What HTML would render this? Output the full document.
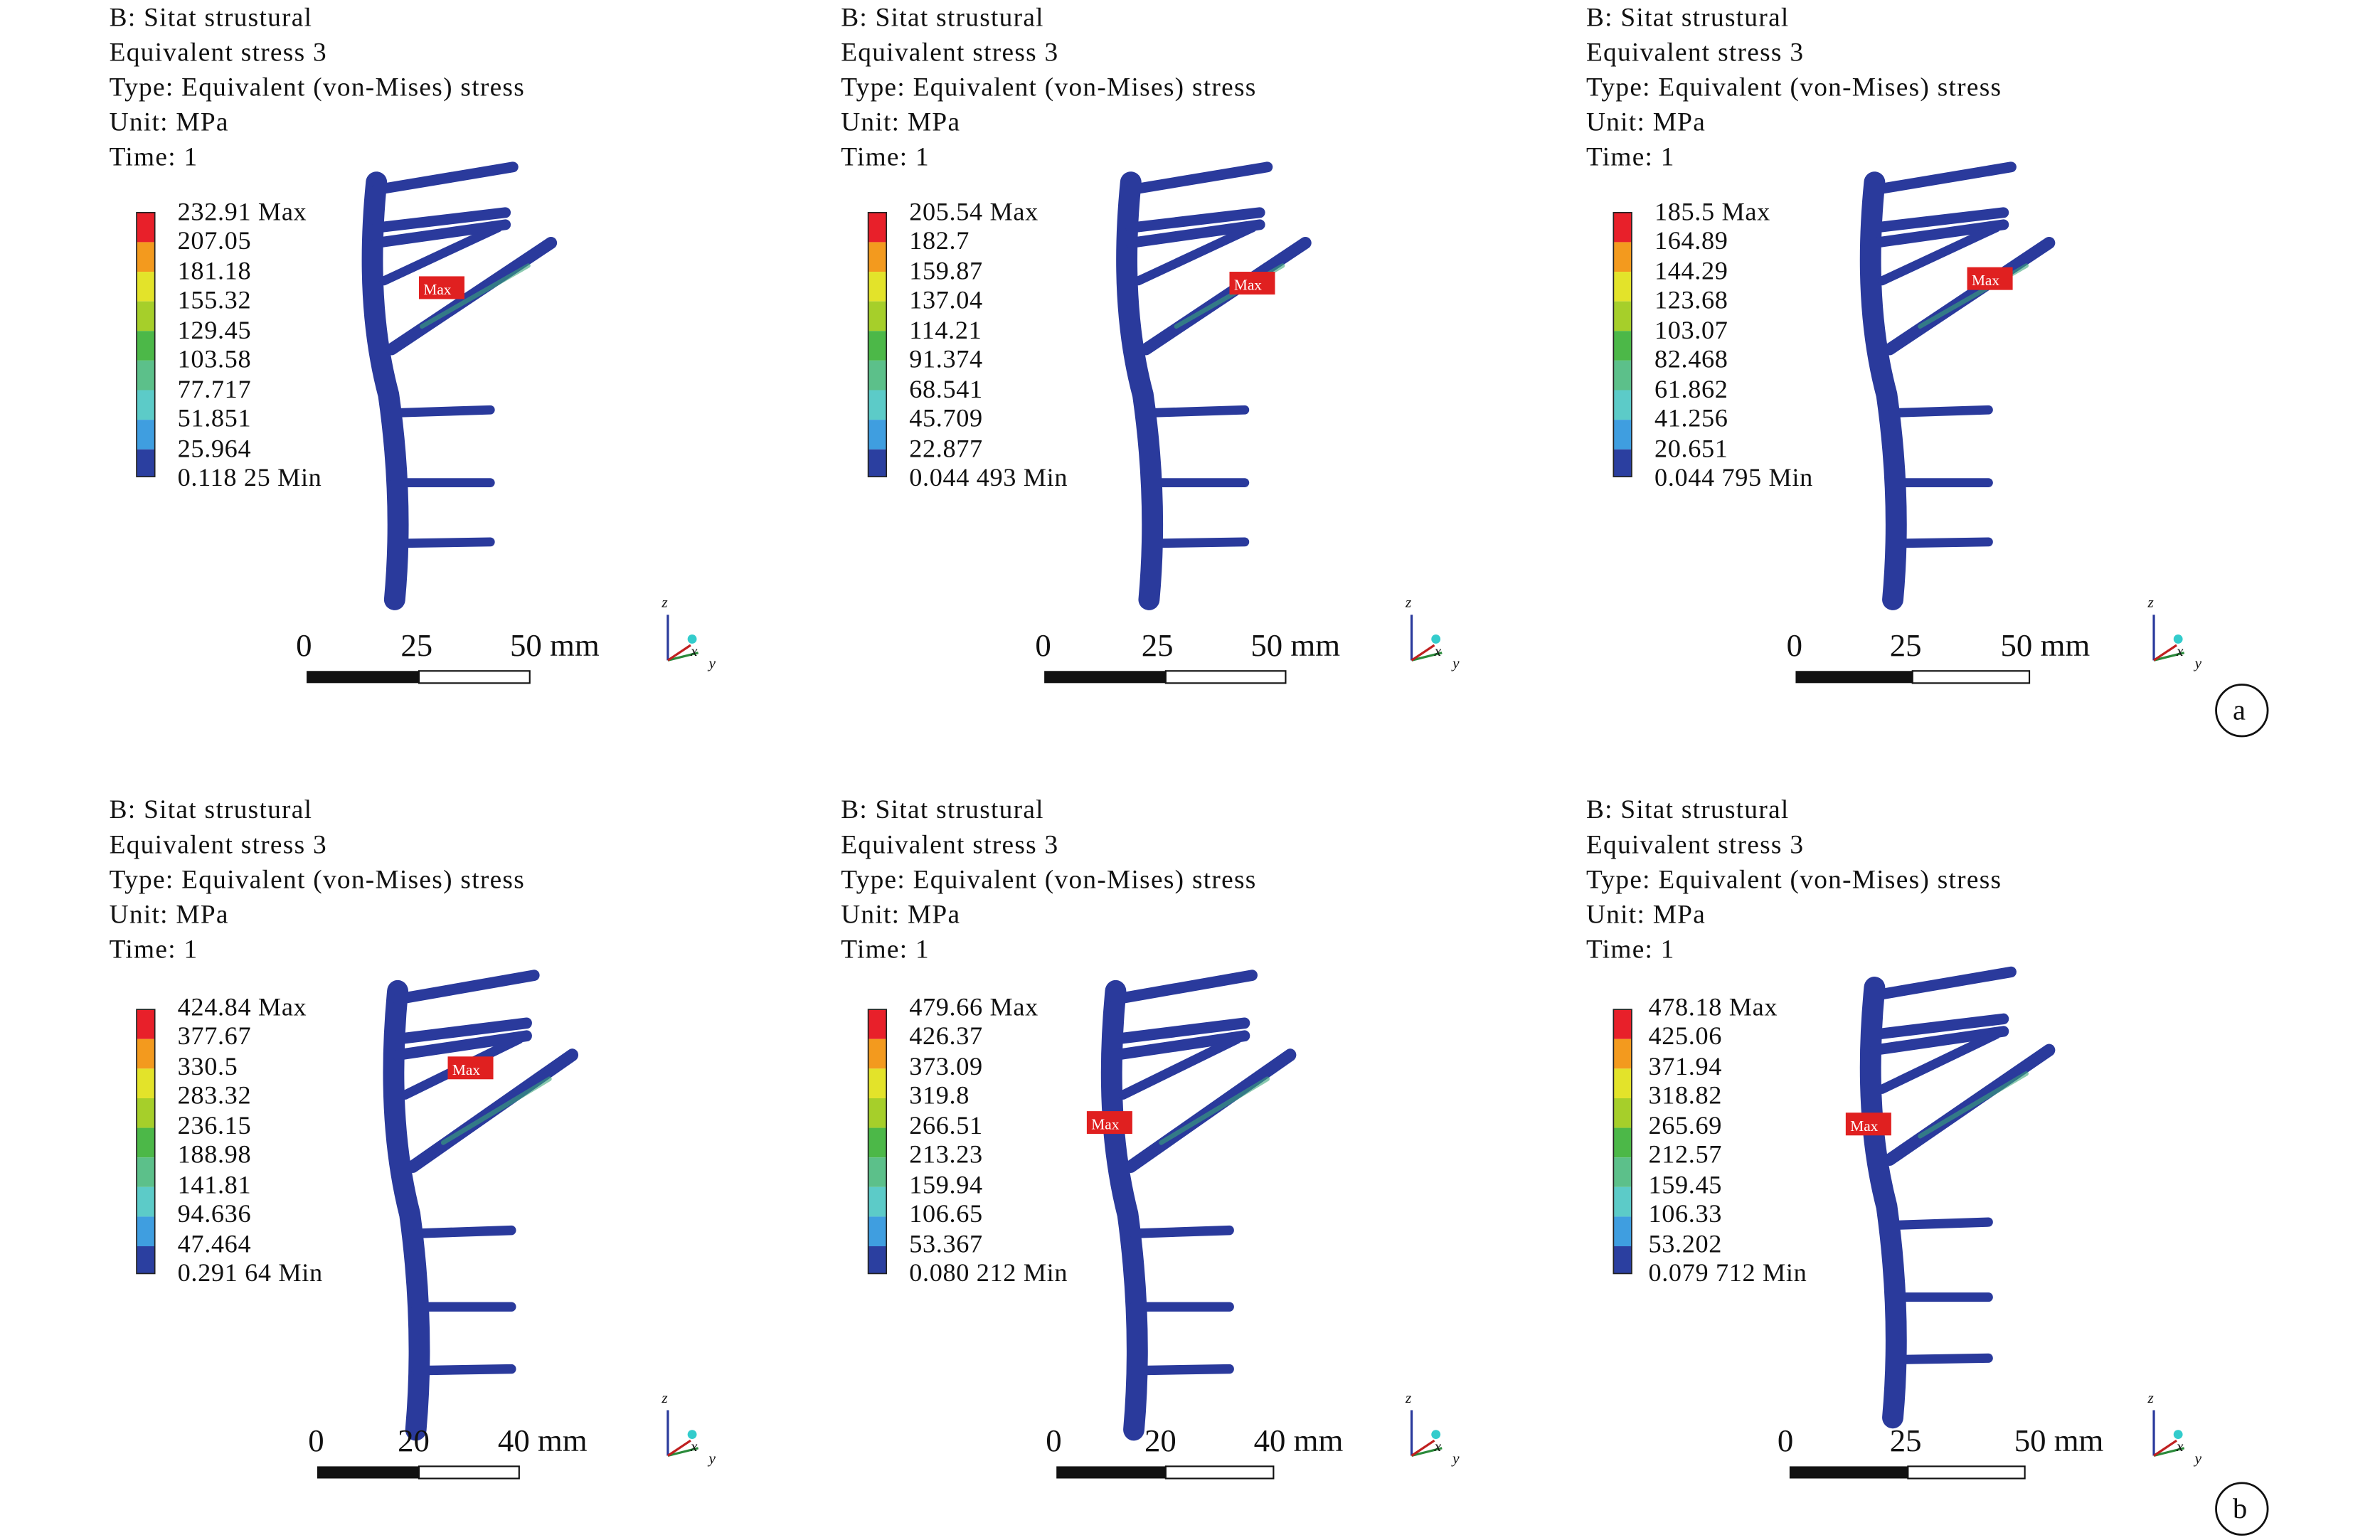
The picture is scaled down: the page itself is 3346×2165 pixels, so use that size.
<!DOCTYPE html>
<html><head><meta charset="utf-8"><style>
html,body{margin:0;padding:0;background:#fff;}
svg{display:block;}
text{font-family:"Liberation Serif",serif;fill:#111;}
.h text{font-size:17.5px;letter-spacing:0.6px;}
.l text{font-size:17px;letter-spacing:0.3px;}
</style></head><body>
<svg width="3346" height="2165" viewBox="0 0 1568 1014.5" xmlns="http://www.w3.org/2000/svg">
<defs>
<g id="leg">
<rect x="90" y="140" width="12" height="19.5" fill="#e8202a"/>
<rect x="90" y="159.5" width="12" height="19.5" fill="#f39a1e"/>
<rect x="90" y="179" width="12" height="19.5" fill="#e3e32a"/>
<rect x="90" y="198.5" width="12" height="19.5" fill="#a6cf2a"/>
<rect x="90" y="218" width="12" height="19.5" fill="#4cb848"/>
<rect x="90" y="237.5" width="12" height="19.5" fill="#5cc08a"/>
<rect x="90" y="257" width="12" height="19.5" fill="#5ccbc8"/>
<rect x="90" y="276.5" width="12" height="19.5" fill="#3f9ee0"/>
<rect x="90" y="296" width="12" height="18" fill="#2b3fa0"/>
<rect x="90" y="140" width="12" height="174" fill="none" stroke="#222" stroke-width="0.8"/>
</g>
<g id="plate" stroke="#2a3a9c" stroke-linecap="round" fill="none">
<path d="M0 120 Q-8 200 8 260 Q18 330 12 395" stroke-width="14"/>
<path d="M0 125 L90 110" stroke-width="7"/>
<path d="M0 150 L85 140" stroke-width="7"/>
<path d="M0 160 L85 148" stroke-width="7"/>
<path d="M5 185 L80 150" stroke-width="6"/>
<path d="M10 230 L115 160" stroke-width="8"/>
<path d="M12 272 L75 270" stroke-width="6"/>
<path d="M12 318 L75 318" stroke-width="6"/>
<path d="M12 358 L75 357" stroke-width="6"/>
<path d="M30 215 L100 175" stroke="#3aa57a" stroke-width="3" opacity="0.6"/>
</g>
<g id="triad" stroke-width="1.5">
<line x1="440" y1="435" x2="440" y2="405" stroke="#2a3a9c"/>
<line x1="440" y1="435" x2="460" y2="430" stroke="#2a8a3a"/>
<line x1="440" y1="435" x2="455" y2="425" stroke="#c02020"/>
<circle cx="456" cy="421" r="3" fill="#3cc"/>
<text x="436" y="400" font-size="10" font-style="italic" fill="#2a3a9c">z</text>
<text x="455" y="432" font-size="10" font-style="italic" fill="#c02020">x</text>
<text x="467" y="440" font-size="10" font-style="italic" fill="#2a8a3a">y</text>
</g>
</defs>
<g font-size="17">
<g>
<g class="h"><text x="72" y="17">B: Sitat strustural</text><text x="72" y="40">Equivalent stress 3</text><text x="72" y="63">Type: Equivalent (von-Mises) stress</text><text x="72" y="86">Unit: MPa</text><text x="72" y="109">Time: 1</text></g>
<use href="#leg"/>
<g class="l"><text x="117" y="145">232.91 Max</text><text x="117" y="164">207.05</text><text x="117" y="184">181.18</text><text x="117" y="203">155.32</text><text x="117" y="223">129.45</text><text x="117" y="242">103.58</text><text x="117" y="262">77.717</text><text x="117" y="281">51.851</text><text x="117" y="301">25.964</text><text x="117" y="320">0.118 25 Min</text></g>
<use href="#plate" transform="translate(248,0)"/>
<rect x="276" y="182" width="30" height="15" fill="#e02020"/><text x="279" y="194" font-size="10" style="fill:#fff">Max</text>
<text x="195" y="432" font-size="21">0</text><text x="264" y="432" font-size="21">25</text><text x="336" y="432" font-size="21">50 mm</text>
<rect x="202" y="442" width="74" height="8" fill="#111"/><rect x="276" y="442" width="73" height="8" fill="#fff" stroke="#111" stroke-width="1"/>
<use href="#triad"/>
</g>
<g transform="translate(482,0)">
<g class="h"><text x="72" y="17">B: Sitat strustural</text><text x="72" y="40">Equivalent stress 3</text><text x="72" y="63">Type: Equivalent (von-Mises) stress</text><text x="72" y="86">Unit: MPa</text><text x="72" y="109">Time: 1</text></g>
<use href="#leg"/>
<g class="l"><text x="117" y="145">205.54 Max</text><text x="117" y="164">182.7</text><text x="117" y="184">159.87</text><text x="117" y="203">137.04</text><text x="117" y="223">114.21</text><text x="117" y="242">91.374</text><text x="117" y="262">68.541</text><text x="117" y="281">45.709</text><text x="117" y="301">22.877</text><text x="117" y="320">0.044 493 Min</text></g>
<use href="#plate" transform="translate(263,0)"/>
<rect x="328" y="179" width="30" height="15" fill="#e02020"/><text x="331" y="191" font-size="10" style="fill:#fff">Max</text>
<text x="200" y="432" font-size="21">0</text><text x="270" y="432" font-size="21">25</text><text x="342" y="432" font-size="21">50 mm</text>
<rect x="206" y="442" width="80" height="8" fill="#111"/><rect x="286" y="442" width="79" height="8" fill="#fff" stroke="#111" stroke-width="1"/>
<use href="#triad" transform="translate(8,0)"/>
</g>
<g transform="translate(973,0)">
<g class="h"><text x="72" y="17">B: Sitat strustural</text><text x="72" y="40">Equivalent stress 3</text><text x="72" y="63">Type: Equivalent (von-Mises) stress</text><text x="72" y="86">Unit: MPa</text><text x="72" y="109">Time: 1</text></g>
<use href="#leg"/>
<g class="l"><text x="117" y="145">185.5 Max</text><text x="117" y="164">164.89</text><text x="117" y="184">144.29</text><text x="117" y="203">123.68</text><text x="117" y="223">103.07</text><text x="117" y="242">82.468</text><text x="117" y="262">61.862</text><text x="117" y="281">41.256</text><text x="117" y="301">20.651</text><text x="117" y="320">0.044 795 Min</text></g>
<use href="#plate" transform="translate(262,0)"/>
<rect x="323" y="176" width="30" height="15" fill="#e02020"/><text x="326" y="188" font-size="10" style="fill:#fff">Max</text>
<text x="204" y="432" font-size="21">0</text><text x="272" y="432" font-size="21">25</text><text x="345" y="432" font-size="21">50 mm</text>
<rect x="210" y="442" width="77" height="8" fill="#111"/><rect x="287" y="442" width="77" height="8" fill="#fff" stroke="#111" stroke-width="1"/>
<use href="#triad" transform="translate(6,0)"/>
</g>
<g transform="translate(0,522)">
<g class="h"><text x="72" y="17">B: Sitat strustural</text><text x="72" y="40">Equivalent stress 3</text><text x="72" y="63">Type: Equivalent (von-Mises) stress</text><text x="72" y="86">Unit: MPa</text><text x="72" y="109">Time: 1</text></g>
<use href="#leg" transform="translate(0,3)"/>
<g class="l"><text x="117" y="147">424.84 Max</text><text x="117" y="166">377.67</text><text x="117" y="186">330.5</text><text x="117" y="205">283.32</text><text x="117" y="225">236.15</text><text x="117" y="244">188.98</text><text x="117" y="264">141.81</text><text x="117" y="283">94.636</text><text x="117" y="303">47.464</text><text x="117" y="322">0.291 64 Min</text></g>
<use href="#plate" transform="translate(262,5) scale(1,1.05)"/>
<rect x="295" y="174" width="30" height="15" fill="#e02020"/><text x="298" y="186" font-size="10" style="fill:#fff">Max</text>
<text x="203" y="434" font-size="21">0</text><text x="262" y="434" font-size="21">20</text><text x="328" y="434" font-size="21">40 mm</text>
<rect x="209" y="444" width="67" height="8" fill="#111"/><rect x="276" y="444" width="66" height="8" fill="#fff" stroke="#111" stroke-width="1"/>
<use href="#triad" transform="translate(0,2)"/>
</g>
<g transform="translate(482,522)">
<g class="h"><text x="72" y="17">B: Sitat strustural</text><text x="72" y="40">Equivalent stress 3</text><text x="72" y="63">Type: Equivalent (von-Mises) stress</text><text x="72" y="86">Unit: MPa</text><text x="72" y="109">Time: 1</text></g>
<use href="#leg" transform="translate(0,3)"/>
<g class="l"><text x="117" y="147">479.66 Max</text><text x="117" y="166">426.37</text><text x="117" y="186">373.09</text><text x="117" y="205">319.8</text><text x="117" y="225">266.51</text><text x="117" y="244">213.23</text><text x="117" y="264">159.94</text><text x="117" y="283">106.65</text><text x="117" y="303">53.367</text><text x="117" y="322">0.080 212 Min</text></g>
<use href="#plate" transform="translate(253,5) scale(1,1.05)"/>
<rect x="234" y="210" width="30" height="15" fill="#e02020"/><text x="237" y="222" font-size="10" style="fill:#fff">Max</text>
<text x="207" y="434" font-size="21">0</text><text x="272" y="434" font-size="21">20</text><text x="344" y="434" font-size="21">40 mm</text>
<rect x="214" y="444" width="72" height="8" fill="#111"/><rect x="286" y="444" width="71" height="8" fill="#fff" stroke="#111" stroke-width="1"/>
<use href="#triad" transform="translate(8,2)"/>
</g>
<g transform="translate(973,522)">
<g class="h"><text x="72" y="17">B: Sitat strustural</text><text x="72" y="40">Equivalent stress 3</text><text x="72" y="63">Type: Equivalent (von-Mises) stress</text><text x="72" y="86">Unit: MPa</text><text x="72" y="109">Time: 1</text></g>
<use href="#leg" transform="translate(0,3)"/>
<g class="l"><text x="113" y="147">478.18 Max</text><text x="113" y="166">425.06</text><text x="113" y="186">371.94</text><text x="113" y="205">318.82</text><text x="113" y="225">265.69</text><text x="113" y="244">212.57</text><text x="113" y="264">159.45</text><text x="113" y="283">106.33</text><text x="113" y="303">53.202</text><text x="113" y="322">0.079 712 Min</text></g>
<use href="#plate" transform="translate(262,5) scale(1,1.03)"/>
<rect x="243" y="211" width="30" height="15" fill="#e02020"/><text x="246" y="223" font-size="10" style="fill:#fff">Max</text>
<text x="198" y="434" font-size="21">0</text><text x="272" y="434" font-size="21">25</text><text x="354" y="434" font-size="21">50 mm</text>
<rect x="206" y="444" width="78" height="8" fill="#111"/><rect x="284" y="444" width="77" height="8" fill="#fff" stroke="#111" stroke-width="1"/>
<use href="#triad" transform="translate(6,2)"/>
</g>
</g>
<circle cx="1477" cy="468" r="17" fill="none" stroke="#111" stroke-width="1.3"/><text x="1471" y="474" font-size="19">a</text>
<circle cx="1477" cy="994" r="17" fill="none" stroke="#111" stroke-width="1.3"/><text x="1471" y="1000" font-size="19">b</text>
</svg>
</body></html>
